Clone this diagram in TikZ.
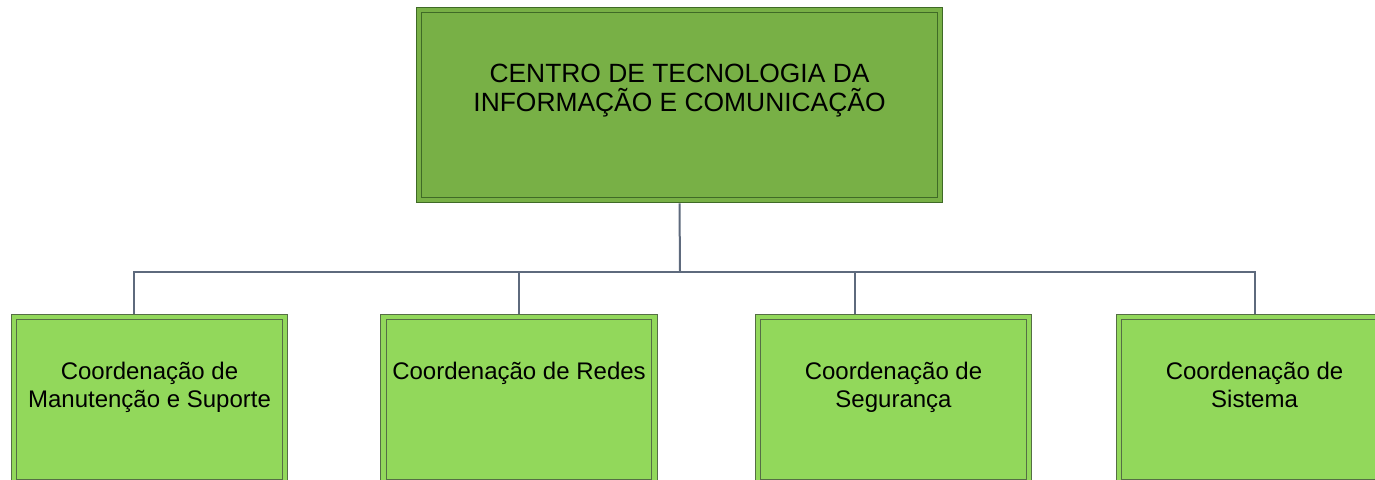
\documentclass[tikz,border=0pt]{standalone}
\usepackage{fontspec}
\setmainfont{Liberation Sans}
\usepackage{xcolor}
\definecolor{headFill}{HTML}{78B046}
\definecolor{headLine}{HTML}{3F6A26}
\definecolor{unitFill}{HTML}{92D85B}
\definecolor{unitLine}{HTML}{556E45}
\definecolor{linkLine}{HTML}{5E6A7D}
\usetikzlibrary{positioning}

\begin{document}
\begin{tikzpicture}[
  x=0.5pt, y=-0.5pt,
  headbox/.style={draw=headLine, fill=headFill, double=headFill, line width=0.5pt, double distance=2.25pt, outer sep=1.6pt, inner sep=0pt, minimum width=260.5pt, text height=50.5pt, text depth=44.5pt, align=center, font=\fontsize{13.2}{14.5}\selectfont},
  unitbox/.style={draw=unitLine, fill=unitFill, double=unitFill, line width=0.5pt, double distance=2.25pt, outer sep=1.6pt, inner sep=0pt, minimum width=135.5pt, text height=45pt, text depth=37.5pt, align=center, font=\fontsize{12}{14}\selectfont},
  oneline/.style={text height=31pt, text depth=51.5pt},
  link/.style={draw=linkLine, line width=1pt}
]
\useasboundingbox (0,0) rectangle (1375,480);
\clip (0,0) rectangle (1375,480);

% Head of the centre
\node[headbox, anchor=north] (centro) at (679.5,7) {CENTRO DE TECNOLOGIA DA\\INFORMAÇÃO E COMUNICAÇÃO};

% Coordinations
\node[unitbox, anchor=north] (manut) at (149.5,314) {Coordenação de\\Manutenção e Suporte};
\node[unitbox, oneline, anchor=north] (redes) at (519,314) {Coordenação de Redes};
\node[unitbox, anchor=north] (segur) at (893.5,314) {Coordenação de\\Segurança};
\node[unitbox, anchor=north] (siste) at (1254.5,314) {Coordenação de\\Sistema};

% Connectors
\coordinate (hub) at (680,272);
\draw[link] (centro.south) -- (hub);
\draw[link] (hub) -| ([xshift=-7.75pt]manut.north);
\draw[link] (hub) -| (redes.north);
\draw[link] (hub) -| ([xshift=-19.25pt]segur.north);
\draw[link] (hub) -| (siste.north);

\end{tikzpicture}
\end{document}
